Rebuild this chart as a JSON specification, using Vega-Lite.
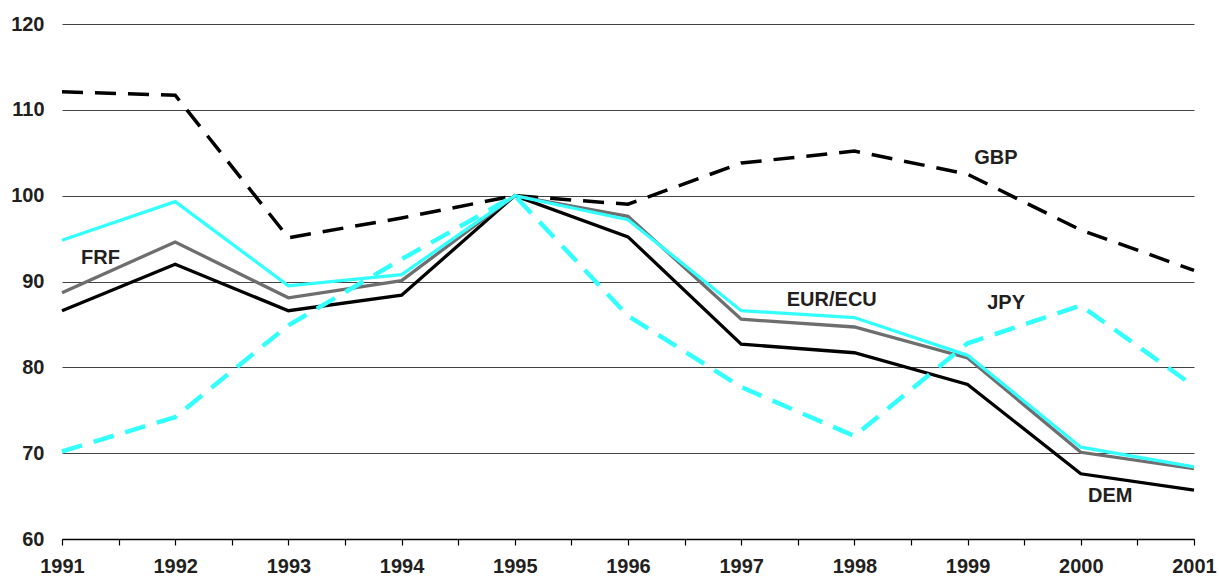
{
  "$schema": "https://vega.github.io/schema/vega-lite/v6.json",
  "width": 1132,
  "height": 515,
  "autosize": {"type": "none"},
  "padding": {"left": 62, "top": 24, "right": 25, "bottom": 40},
  "background": "white",
  "config": {
    "view": {"stroke": null},
    "font": "Liberation Sans",
    "axis": {"labelFont": "Liberation Sans", "labelFontWeight": "bold", "labelFontSize": 20, "labelColor": "#231f20"}
  },
  "data": {"values": [
    {"year": 1991, "series": "GBP", "value": 112.1},
    {"year": 1992, "series": "GBP", "value": 111.7},
    {"year": 1993, "series": "GBP", "value": 95.1},
    {"year": 1994, "series": "GBP", "value": 97.4},
    {"year": 1995, "series": "GBP", "value": 100.0},
    {"year": 1996, "series": "GBP", "value": 99.0},
    {"year": 1997, "series": "GBP", "value": 103.8},
    {"year": 1998, "series": "GBP", "value": 105.2},
    {"year": 1999, "series": "GBP", "value": 102.5},
    {"year": 2000, "series": "GBP", "value": 96.0},
    {"year": 2001, "series": "GBP", "value": 91.3},
    {"year": 1991, "series": "DEM", "value": 86.6},
    {"year": 1992, "series": "DEM", "value": 92.0},
    {"year": 1993, "series": "DEM", "value": 86.6},
    {"year": 1994, "series": "DEM", "value": 88.4},
    {"year": 1995, "series": "DEM", "value": 100.0},
    {"year": 1996, "series": "DEM", "value": 95.2},
    {"year": 1997, "series": "DEM", "value": 82.7},
    {"year": 1998, "series": "DEM", "value": 81.7},
    {"year": 1999, "series": "DEM", "value": 78.0},
    {"year": 2000, "series": "DEM", "value": 67.6},
    {"year": 2001, "series": "DEM", "value": 65.7},
    {"year": 1991, "series": "FRF", "value": 88.7},
    {"year": 1992, "series": "FRF", "value": 94.6},
    {"year": 1993, "series": "FRF", "value": 88.1},
    {"year": 1994, "series": "FRF", "value": 90.1},
    {"year": 1995, "series": "FRF", "value": 100.0},
    {"year": 1996, "series": "FRF", "value": 97.6},
    {"year": 1997, "series": "FRF", "value": 85.6},
    {"year": 1998, "series": "FRF", "value": 84.7},
    {"year": 1999, "series": "FRF", "value": 81.1},
    {"year": 2000, "series": "FRF", "value": 70.1},
    {"year": 2001, "series": "FRF", "value": 68.2},
    {"year": 1991, "series": "EUR/ECU", "value": 94.8},
    {"year": 1992, "series": "EUR/ECU", "value": 99.3},
    {"year": 1993, "series": "EUR/ECU", "value": 89.5},
    {"year": 1994, "series": "EUR/ECU", "value": 90.8},
    {"year": 1995, "series": "EUR/ECU", "value": 100.0},
    {"year": 1996, "series": "EUR/ECU", "value": 97.2},
    {"year": 1997, "series": "EUR/ECU", "value": 86.6},
    {"year": 1998, "series": "EUR/ECU", "value": 85.8},
    {"year": 1999, "series": "EUR/ECU", "value": 81.4},
    {"year": 2000, "series": "EUR/ECU", "value": 70.7},
    {"year": 2001, "series": "EUR/ECU", "value": 68.4},
    {"year": 1991, "series": "JPY", "value": 70.2},
    {"year": 1992, "series": "JPY", "value": 74.2},
    {"year": 1993, "series": "JPY", "value": 84.9},
    {"year": 1994, "series": "JPY", "value": 92.6},
    {"year": 1995, "series": "JPY", "value": 100.0},
    {"year": 1996, "series": "JPY", "value": 86.0},
    {"year": 1997, "series": "JPY", "value": 77.7},
    {"year": 1998, "series": "JPY", "value": 72.0},
    {"year": 1999, "series": "JPY", "value": 82.8},
    {"year": 2000, "series": "JPY", "value": 87.2},
    {"year": 2001, "series": "JPY", "value": 77.8}
  ]},
  "encoding": {
    "x": {
      "field": "year", "type": "quantitative",
      "scale": {"domain": [1991, 2001], "nice": false, "zero": false},
      "axis": {
        "title": null, "grid": false, "domain": true, "domainColor": "#000", "domainWidth": 1.5,
        "ticks": true, "tickColor": "#000", "tickSize": 6, "tickWidth": 1.2,
        "values": [1991, 1991.5, 1992, 1992.5, 1993, 1993.5, 1994, 1994.5, 1995, 1995.5, 1996, 1996.5, 1997, 1997.5, 1998, 1998.5, 1999, 1999.5, 2000, 2000.5, 2001],
        "labelExpr": "datum.value % 1 == 0 ? format(datum.value, 'd') : ''",
        "labelPadding": 11, "labelOverlap": false, "labelFlush": false
      }
    },
    "y": {
      "field": "value", "type": "quantitative",
      "scale": {"domain": [60, 120], "nice": false, "zero": false},
      "axis": {
        "title": null, "grid": true, "gridColor": "#444", "gridWidth": 1, "domain": false, "ticks": false,
        "values": [60, 70, 80, 90, 100, 110, 120], "labelPadding": 18
      }
    }
  },
  "layer": [
    {
      "transform": [{"filter": "datum.series == 'GBP'"}],
      "mark": {"type": "line", "strokeWidth": 3.5, "color": "#000000", "strokeDash": [21, 12], "strokeJoin": "miter", "strokeCap": "butt"}
    },
    {
      "transform": [{"filter": "datum.series == 'DEM'"}],
      "mark": {"type": "line", "strokeWidth": 3.3, "color": "#000000", "strokeJoin": "miter"}
    },
    {
      "transform": [{"filter": "datum.series == 'FRF'"}],
      "mark": {"type": "line", "strokeWidth": 3.3, "color": "#6e6e6e", "strokeJoin": "miter"}
    },
    {
      "transform": [{"filter": "datum.series == 'EUR/ECU'"}],
      "mark": {"type": "line", "strokeWidth": 3.3, "color": "#33ffff", "strokeJoin": "miter"}
    },
    {
      "transform": [{"filter": "datum.series == 'JPY'"}],
      "mark": {"type": "line", "strokeWidth": 4.5, "color": "#33ffff", "strokeDash": [21, 12], "strokeJoin": "miter", "strokeCap": "butt"}
    },
    {
      "data": {"values": [
        {"label": "FRF", "x": 1991.34, "y": 92.7},
        {"label": "EUR/ECU", "x": 1997.8, "y": 87.8},
        {"label": "GBP", "x": 1999.25, "y": 104.4},
        {"label": "JPY", "x": 1999.34, "y": 87.5},
        {"label": "DEM", "x": 2000.26, "y": 65.0}
      ]},
      "mark": {"type": "text", "font": "Liberation Sans", "fontWeight": "bold", "fontSize": 20, "color": "#231f20", "align": "center", "baseline": "middle"},
      "encoding": {
        "x": {"field": "x", "type": "quantitative"},
        "y": {"field": "y", "type": "quantitative"},
        "text": {"field": "label"}
      }
    }
  ]
}
